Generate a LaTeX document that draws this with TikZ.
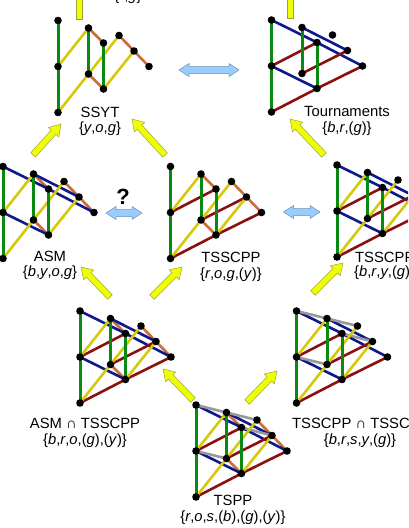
\documentclass[tikz,border=0pt]{standalone}
\usepackage{fontspec}
\setmainfont{Liberation Sans}
\usetikzlibrary{calc}
\definecolor{cgreen}{HTML}{0B8A12}
\definecolor{cyellow}{HTML}{D6C90A}
\definecolor{corange}{HTML}{CC6E3C}
\definecolor{cblue}{HTML}{0E1A8C}
\definecolor{cred}{HTML}{8C0F0F}
\definecolor{cgray}{HTML}{999999}
\definecolor{yfill}{HTML}{EEFF00}
\definecolor{yline}{HTML}{A0A040}
\definecolor{bfill}{HTML}{99CCFF}
\definecolor{bline}{HTML}{7090B0}
\tikzset{
  x=1pt,y=-1pt,
  gedge/.style={line width=3pt,cgreen},
  yedge/.style={line width=2.6pt,cyellow},
  oedge/.style={line width=2.6pt,corange},
  bedge/.style={line width=2.6pt,cblue},
  redge/.style={line width=2.6pt,cred},
  sedge/.style={line width=2.6pt,cgray},
  dot/.style={circle,fill=black,inner sep=0pt,minimum size=7.6pt},
  lab/.style={font=\fontsize{14.8}{16}\selectfont,inner sep=0pt,align=center},
  yarrow/.style={draw=yline,fill=yfill,line width=0.5pt},
  barrow/.style={draw=bline,fill=bfill,line width=0.5pt},
}
\newcommand{\pts}[3]{\coordinate (#3A) at (#1,#2);
  \coordinate (#3B) at (#1,#2+46);
  \coordinate (#3C) at (#1,#2+92);
  \coordinate (#3D) at (#1+30.5,#2+7.5);
  \coordinate (#3E) at (#1+30.5,#2+53.5);
  \coordinate (#3F) at (#1+45.5,#2+22.5);
  \coordinate (#3G) at (#1+45.5,#2+68.5);
  \coordinate (#3H) at (#1+61,#2+15);
  \coordinate (#3I) at (#1+76,#2+30.5);
  \coordinate (#3J) at (#1+91,#2+46);}
\newcommand{\gre}[1]{\draw[gedge] (#1A)--(#1B) (#1B)--(#1C) (#1D)--(#1E) (#1F)--(#1G);}
\newcommand{\yel}[1]{\draw[yedge] (#1B)--(#1D) (#1C)--(#1E) (#1E)--(#1H) (#1G)--(#1I);}
\newcommand{\ora}[1]{\draw[oedge] (#1D)--(#1F) (#1E)--(#1G) (#1H)--(#1I) (#1I)--(#1J);}
\newcommand{\blu}[1]{\draw[bedge] (#1A)--(#1F) (#1F)--(#1J) (#1D)--(#1I) (#1B)--(#1G);}
\newcommand{\rdd}[1]{\draw[redge] (#1B)--(#1F) (#1E)--(#1I) (#1C)--(#1G) (#1G)--(#1J);}
\newcommand{\gry}[1]{\draw[sedge] (#1A)--(#1D) (#1D)--(#1H) (#1B)--(#1E) (#1F)--(#1I);}
\newcommand{\dts}[1]{\foreach \n in {A,B,C,D,E,F,G,H,I,J} \node[dot] at (#1\n) {};}
\newcommand{\yarr}[2]{%
  \draw[yarrow] let \p1=(#1),\p2=(#2),\n1={atan2(\y2-\y1,\x2-\x1)},\n2={veclen(\y2-\y1,\x2-\x1)} in
    [shift={(\p1)},rotate=\n1,y=1pt]
    (0,-3.2) -- (\n2-11,-3.2) -- (\n2-11,-7) -- (\n2,0) -- (\n2-11,7) -- (\n2-11,3.2) -- (0,3.2) -- cycle;}
\newcommand{\barr}[2]{%
  \draw[barrow] let \p1=(#1),\p2=(#2),\n1={veclen(\y2-\y1,\x2-\x1)} in
    [shift={(\p1)},y=1pt]
    (0,0) -- (10,-6.5) -- (10,-3.5) -- (\n1-10,-3.5) -- (\n1-10,-6.5) -- (\n1,0) -- (\n1-10,6.5) -- (\n1-10,3.5) -- (10,3.5) -- (10,6.5) -- cycle;}
\begin{document}
\begin{tikzpicture}
\useasboundingbox (0,0) rectangle (408,528);
\clip (0,0) rectangle (408,528);
\fill[white] (0,0) rectangle (408,528);

\pts{58}{20.5}{s}
\yel{s}\ora{s}\gre{s}\dts{s}
\pts{271.5}{20}{t}
\blu{t}\rdd{t}\gre{t}\dts{t}
\pts{3}{166.5}{a}
\ora{a}\blu{a}\yel{a}\gre{a}\dts{a}
\pts{170.5}{166.5}{p}
\ora{p}\rdd{p}\yel{p}\gre{p}\dts{p}
\pts{337}{165}{q}
\blu{q}\rdd{q}\yel{q}\gre{q}\dts{q}
\pts{80}{311}{m}
\ora{m}\blu{m}\rdd{m}\yel{m}\gre{m}\dts{m}
\pts{296.5}{311}{n}
\blu{n}\gry{n}\rdd{n}\yel{n}\gre{n}\dts{n}
\pts{196}{405}{r}
\ora{r}\blu{r}\gry{r}\rdd{r}\yel{r}\gre{r}\dts{r}

\draw[yarrow] (76,-5) rectangle (82,19);
\draw[yarrow] (287,-5) rectangle (293,18);
\foreach \f/\t in {{33,155}/{61,124},{165,155}/{132,119},{324,155}/{290,119},{110,297}/{81,267},{152,297}/{182,267},{313,293}/{343,263},{193,400}/{163,369},{247,402}/{277,371}}{
  \coordinate (f) at (\f); \coordinate (t) at (\t);
  \yarr{f}{t}
}
\coordinate (b1a) at (179,70); \coordinate (b1b) at (239,70);
\barr{b1a}{b1b}
\coordinate (b2a) at (106,213); \coordinate (b2b) at (142,213);
\barr{b2a}{b2b}
\coordinate (b3a) at (283.5,212); \coordinate (b3b) at (320,212);
\barr{b3a}{b3b}

\node[font=\bfseries\fontsize{22}{24}\selectfont,inner sep=0pt] (q1) at (123,197) {?};

\node[lab] (l1) at (100,112) {SSYT};
\node[lab] (l1b) at (100,129) {\{\textit{y},\textit{o},\textit{g}\}};
\node[lab] (l2) at (347,111) {Tournaments};
\node[lab] (l2b) at (347,129) {\{\textit{b},\textit{r},(\textit{g})\}};
\node[lab] (l3) at (50,256) {ASM};
\node[lab] (l3b) at (50,273) {\{\textit{b},\textit{y},\textit{o},\textit{g}\}};
\node[lab] (l4) at (231,257) {TSSCPP};
\node[lab] (l4b) at (231,275) {\{\textit{r},\textit{o},\textit{g},(\textit{y})\}};
\node[lab,anchor=west] (l5) at (355,257) {TSSCPP};
\node[lab,anchor=west] (l5b) at (354,273) {\{\textit{b},\textit{r},\textit{y},(\textit{g})\}};
\node[lab] (l6) at (85,423) {ASM ∩ TSSCPP};
\node[lab] (l6b) at (85,441) {\{\textit{b},\textit{r},\textit{o},(\textit{g}),(\textit{y})\}};
\node[lab,anchor=west] (l7) at (292,423) {TSSCPP ∩ TSSC};
\node[lab] (l7b) at (360,441) {\{\textit{b},\textit{r},\textit{s},\textit{y},(\textit{g})\}};
\node[lab] (l8) at (233,500) {TSPP};
\node[lab] (l8b) at (233,518) {\{\textit{r},\textit{o},\textit{s},(\textit{b}),(\textit{g}),(\textit{y})\}};
\node[lab] (l0) at (128,-3) {\{\textit{r},\textit{g}\}};
\end{tikzpicture}
\end{document}
